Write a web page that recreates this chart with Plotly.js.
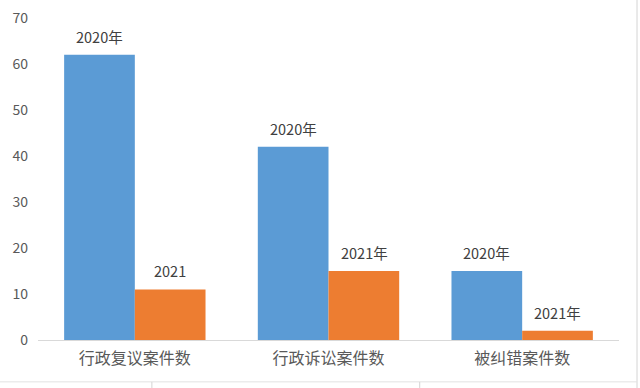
<!DOCTYPE html>
<html><head><meta charset="utf-8">
<script src="https://cdn.plot.ly/plotly-3.0.1.min.js"></script>
<style>html,body{margin:0;padding:0;background:#fff}#c{width:640px;height:388px}</style>
</head><body><div id="c"></div>
<script>
var categories = ['行政复议案件数', '行政诉讼案件数', '被纠错案件数'];
var values2020 = [62, 42, 15];
var values2021 = [11, 15, 2];
var labels2020 = ['2020年', '2020年', '2020年'];
var labels2021 = ['2021', '2021年', '2021年'];
var yTicks = [0, 10, 20, 30, 40, 50, 60, 70];

var font = '"Noto Sans CJK SC", "Microsoft YaHei", sans-serif';
var traces = [
  {type: 'bar', x: categories, y: values2020, name: '2020', marker: {color: '#5B9BD5'}, hoverinfo: 'none'},
  {type: 'bar', x: categories, y: values2021, name: '2021', marker: {color: '#ED7D31'}, hoverinfo: 'none'}
];
var ann = [];
function addLabels(vals, labs, shift) {
  for (var i = 0; i < vals.length; i++) {
    ann.push({x: categories[i], y: vals[i], xref: 'x', yref: 'y', text: labs[i], showarrow: false,
      xshift: shift, yshift: 6, yanchor: 'bottom', font: {family: font, size: 14.5, color: '#404040'}});
  }
}
addLabels(values2020, labels2020, -35.5);
addLabels(values2021, labels2021, 35.5);

var layout = {
  width: 640, height: 388,
  margin: {l: 38, r: 21, t: 18, b: 48},
  paper_bgcolor: '#fff', plot_bgcolor: '#fff',
  barmode: 'group', bargap: 0.27, bargroupgap: 0,
  showlegend: false,
  font: {family: font, color: '#595959'},
  xaxis: {showline: true, linecolor: '#d9d9d9', linewidth: 1, ticks: '', showgrid: false, zeroline: false,
    tickfont: {size: 16, color: '#595959', family: font}, ticklabelstandoff: 4, fixedrange: true},
  yaxis: {range: [0, 70], tickvals: yTicks, showgrid: false, zeroline: false, showline: false, ticks: '',
    tickfont: {size: 14, color: '#595959', family: font}, ticklabelstandoff: 9, fixedrange: true},
  annotations: ann,
  shapes: [
    {type: 'line', xref: 'paper', yref: 'paper', x0: 1.031, x1: 1.031, y0: -0.149, y1: 1.06, line: {color: '#d4d4d4', width: 1}},
    {type: 'line', xref: 'paper', yref: 'paper', x0: -0.07, x1: 1.031, y0: -0.130, y1: -0.130, line: {color: '#e2e2e2', width: 1}},
    {type: 'line', xref: 'paper', yref: 'paper', x0: 0.196, x1: 0.196, y0: -0.130, y1: -0.149, line: {color: '#d4d4d4', width: 1}},
    {type: 'line', xref: 'paper', yref: 'paper', x0: 0.657, x1: 0.657, y0: -0.130, y1: -0.149, line: {color: '#d4d4d4', width: 1}}
  ]
};
Plotly.newPlot('c', traces, layout, {displayModeBar: false, staticPlot: true});
</script></body></html>
